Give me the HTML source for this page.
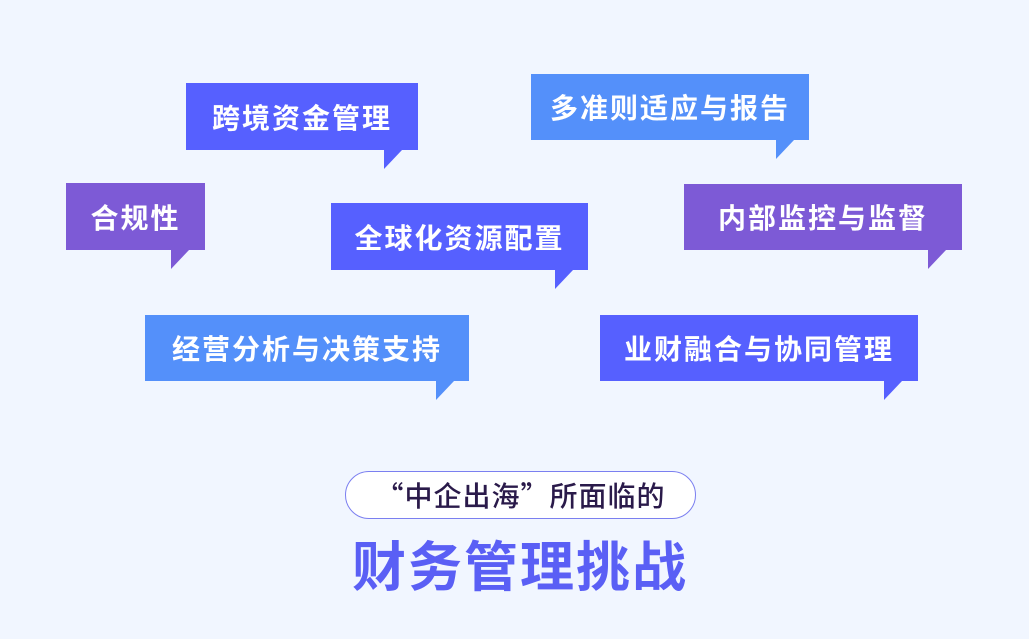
<!DOCTYPE html>
<html><head><meta charset="utf-8"><style>
body{margin:0;width:1029px;height:639px;background:#f1f6ff;position:relative;overflow:hidden;font-family:"Liberation Sans","Noto Sans CJK SC",sans-serif}
.b{position:absolute;color:#fff;font-weight:bold;font-size:28px;display:flex;align-items:center;justify-content:center;letter-spacing:2px;font-family:"Noto Sans CJK SC",sans-serif}
.t{position:absolute;width:0;height:0;border-top:19px solid;border-right:18px solid transparent}
.blue{background:#5660ff}.lb{background:#5490fa}.pu{background:#7d5ad6}
.tb{border-top-color:#5660ff}.tl{border-top-color:#5490fa}.tp{border-top-color:#7d5ad6}
</style></head><body>
<div class="b blue" style="left:186px;top:83px;width:232px;height:67px">跨境资金管理</div><div class="t tb" style="left:384px;top:150px"></div>
<div class="b pu" style="left:66px;top:183px;width:139px;height:67px">合规性</div><div class="t tp" style="left:171px;top:250px"></div>
<div class="b blue" style="left:331px;top:203px;width:257px;height:67px">全球化资源配置</div><div class="t tb" style="left:555px;top:270px"></div>
<div class="b lb" style="left:531px;top:74px;width:278px;height:66px">多准则适应与报告</div><div class="t tl" style="left:776px;top:140px"></div>
<div class="b pu" style="left:684px;top:184px;width:278px;height:66px">内部监控与监督</div><div class="t tp" style="left:928px;top:250px"></div>
<div class="b lb" style="left:145px;top:315px;width:324px;height:66px">经营分析与决策支持</div><div class="t tl" style="left:436px;top:381px"></div>
<div class="b blue" style="left:600px;top:315px;width:318px;height:66px">业财融合与协同管理</div><div class="t tb" style="left:884px;top:381px"></div>
<div style="position:absolute;left:345px;top:471px;width:349px;height:46px;border:1px solid #7b7ff0;border-radius:24px;background:#fff;display:flex;align-items:center;justify-content:center;font-size:28px;color:#2a1a4a;font-weight:500;font-family:'Noto Sans CJK SC',sans-serif;letter-spacing:1px">“中企出海”所面临的</div>
<div style="position:absolute;left:320px;top:528px;width:400px;text-align:center;font-size:54px;font-weight:bold;color:#5a5ff5;letter-spacing:2px;line-height:70px;font-family:'Noto Sans CJK SC',sans-serif">财务管理挑战</div>
</body></html>
